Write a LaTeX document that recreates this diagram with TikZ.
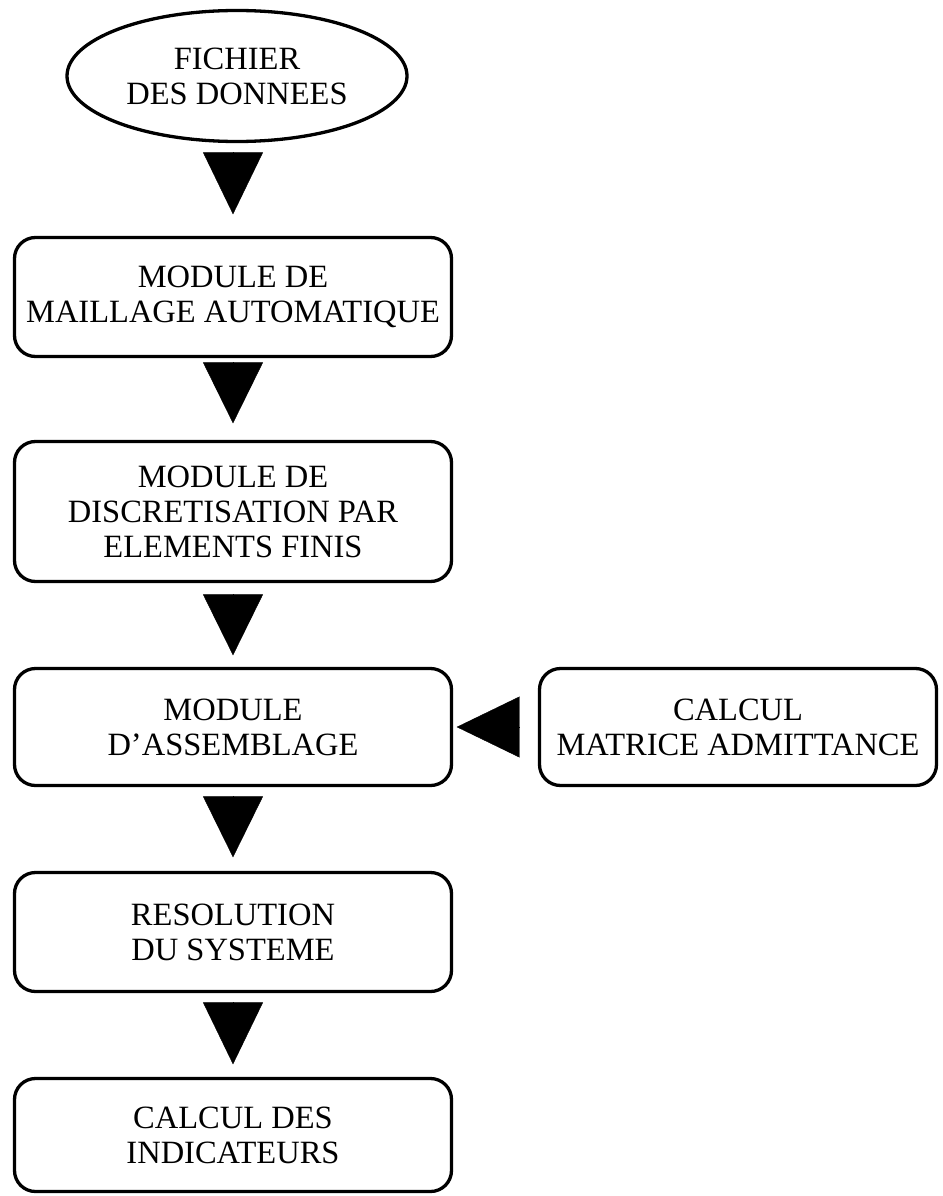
\documentclass[tikz,border=0pt]{standalone}
\usepackage{fontspec}
\setmainfont{Liberation Serif}
\usetikzlibrary{shapes.geometric,arrows.meta}
\begin{document}
\begin{tikzpicture}[x=1pt,y=-1pt,
  txt/.style={font=\fontsize{32.5}{35}\selectfont, align=center, inner sep=0pt},
  rbox/.style={txt, draw, line width=3.3pt, rounded corners=21pt, minimum width=437pt},
  oval/.style={txt, draw, line width=3.3pt, ellipse, minimum width=340pt, minimum height=131pt},
  bigarrow/.style={line width=0.4pt, -{Triangle[length=#1, width=60pt]}},
  bigarrow/.default=61pt]
\useasboundingbox (0,0) rectangle (942,1196);
\node[oval] (e) at (237,76) {FICHIER\\DES DONNEES};
\node[rbox, minimum height=119pt] (b1) at (233,297) {MODULE DE\\MAILLAGE AUTOMATIQUE};
\node[rbox, minimum height=140pt] (b2) at (233,511.5) {MODULE DE\\DISCRETISATION PAR\\ELEMENTS FINIS};
\node[rbox, minimum height=117pt] (b3) at (233,727) {MODULE\\D'ASSEMBLAGE};
\node[rbox, minimum height=117pt, minimum width=397pt] (r) at (738,727) {CALCUL\\MATRICE ADMITTANCE};
\node[rbox, minimum height=119pt] (b4) at (233,932) {RESOLUTION\\DU SYSTEME};
\node[rbox, minimum height=113pt] (b5) at (233,1135) {CALCUL DES\\INDICATEURS};
\draw[bigarrow=62pt, shorten <=12.5pt, shorten >=21.5pt] (b1.north |- e.south) -- (b1.north);
\draw[bigarrow, shorten <=7.5pt, shorten >=16.5pt] (b1.south) -- (b2.north);
\draw[bigarrow, shorten <=14.5pt, shorten >=11.5pt] (b2.south) -- (b3.north);
\draw[bigarrow, shorten <=12.5pt, shorten >=13.5pt] (b3.south) -- (b4.north);
\draw[bigarrow=62pt, shorten <=12.5pt, shorten >=12.5pt] (b4.south) -- (b5.north);
\draw[line width=0.4pt, -{Triangle[length=63pt, width=61pt]}, shorten <=21.5pt, shorten >=3.5pt] (r.west) -- (b3.east);
\end{tikzpicture}
\end{document}
